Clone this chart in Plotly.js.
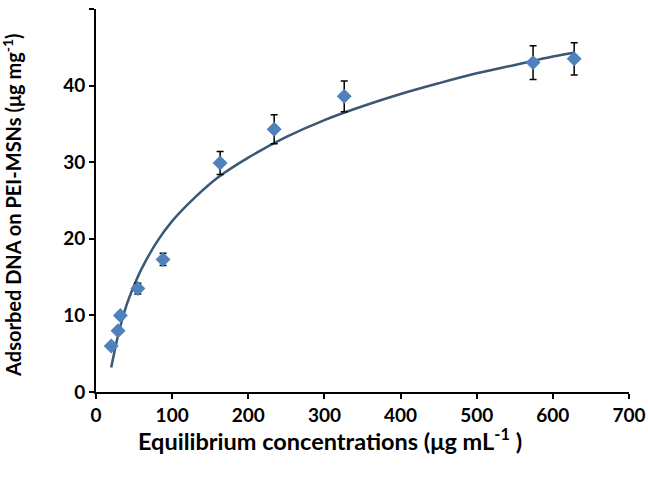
<!DOCTYPE html>
<html><head><meta charset="utf-8">
<script src="https://cdn.plot.ly/plotly-3.0.1.min.js"></script>
<style>html,body{margin:0;padding:0;background:#fff}#chart{width:648px;height:480px}</style>
</head><body><div id="chart"></div>
<script>
// Measured points
const concX = [20, 29, 32, 55, 88, 163, 234, 326, 574, 628];
const adsorbedY = [6.0, 8.0, 10.0, 13.5, 17.3, 29.9, 34.3, 38.6, 43.0, 43.5];
const errY = [0.3, 0.3, 0.4, 0.7, 0.8, 1.5, 1.9, 2.0, 2.2, 2.1];
// Fitted trend curve
const curveX = [20, 25, 30, 40, 50, 60, 80, 100, 130, 160, 200, 250, 300, 350, 400, 450, 500, 550, 600, 628];
const curveY = [3.2, 5.6, 7.8, 11.3, 13.9, 16.1, 19.6, 22.3, 25.4, 28.0, 30.6, 33.3, 35.5, 37.3, 38.9, 40.3, 41.6, 42.7, 43.8, 44.3];
const xTicks = [0, 100, 200, 300, 400, 500, 600, 700];
const yTicks = [0, 10, 20, 30, 40, 50];
const xTitle = 'Equilibrium concentrations (μg mL<sup>-1</sup> )';
const yTitle = 'Adsorbed DNA on PEI-MSNs (μg mg<sup>-1</sup>)';

const fam = 'Lato, "Open Sans", sans-serif';
const traces = [
  {x: curveX, y: curveY, mode: 'lines', type: 'scatter',
   line: {color: '#3A5774', width: 2.5, shape: 'spline'}, hoverinfo: 'skip'},
  {x: concX, y: adsorbedY, mode: 'markers', type: 'scatter',
   marker: {symbol: 'diamond', color: '#4F81BD', size: 11.5},
   error_y: {type: 'data', array: errY, visible: true, color: '#000', thickness: 1.5, width: 3.5}}
];
const layout = {
  width: 648, height: 480, showlegend: false,
  paper_bgcolor: '#fff', plot_bgcolor: '#fff',
  margin: {l: 96, r: 19, t: 9, b: 88},
  font: {family: fam, color: '#000', size: 19},
  xaxis: {range: [0, 700], tickvals: xTicks, ticktext: xTicks.map(String),
    showgrid: false, zeroline: false, showline: true, linecolor: '#000', linewidth: 2,
    ticks: 'outside', ticklen: 5, tickwidth: 2, tickcolor: '#000',
    tickfont: {family: fam, size: 19, color: '#000', weight: 'bold'}},
  yaxis: {range: [0, 50], tickvals: yTicks, ticktext: yTicks.map(String),
    showgrid: false, zeroline: false, showline: true, linecolor: '#000', linewidth: 2,
    ticks: 'outside', ticklen: 5, tickwidth: 2, tickcolor: '#000',
    tickfont: {family: fam, size: 19, color: '#000', weight: 'bold'}},
  annotations: [
    {text: xTitle, xref: 'paper', yref: 'paper', x: 0.439, y: -0.125,
     xanchor: 'center', yanchor: 'middle', showarrow: false,
     font: {family: fam, size: 23.5, color: '#000', weight: 'bold'}},
    {text: yTitle, xref: 'paper', yref: 'paper', x: -0.158, y: 0.488, textangle: -90,
     xanchor: 'center', yanchor: 'middle', showarrow: false,
     font: {family: fam, size: 20, color: '#000', weight: 'bold'}}
  ]
};
Plotly.newPlot('chart', traces, layout, {displayModeBar: false, staticPlot: true});
</script></body></html>
